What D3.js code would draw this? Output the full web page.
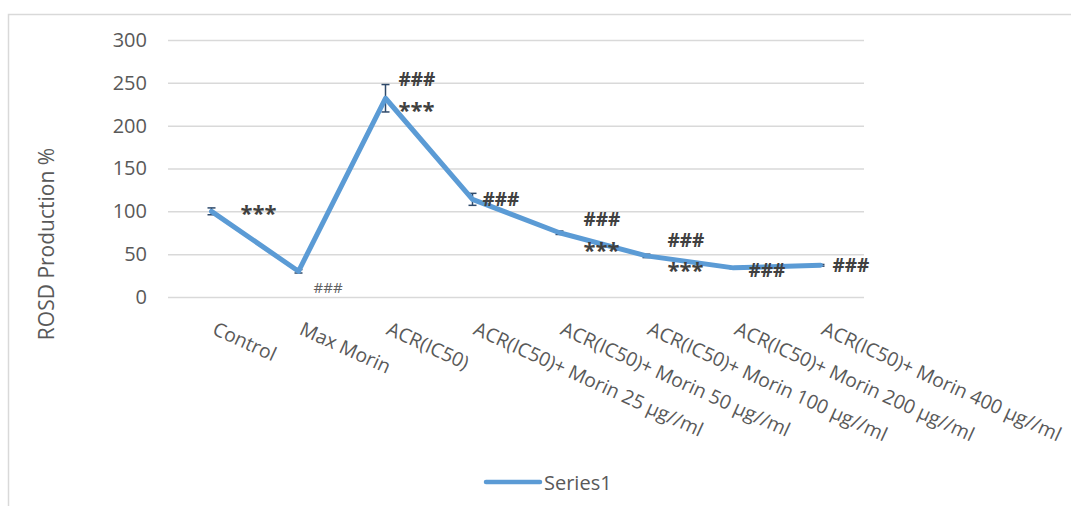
<!DOCTYPE html>
<html>
<head>
<meta charset="utf-8">
<script src="https://cdn.jsdelivr.net/npm/d3@7"></script>
<style>
  html, body { margin: 0; padding: 0; background: #fff; }
  svg { display: block; font-family: "Open Sans", sans-serif; }
</style>
</head>
<body>
<svg id="chart" width="1071" height="506"></svg>
<script>
// ---- data ----
const categories = [
  "Control",
  "Max Morin",
  "ACR(IC50)",
  "ACR(IC50)+ Morin 25 µg//ml",
  "ACR(IC50)+ Morin 50 µg//ml",
  "ACR(IC50)+ Morin 100 µg//ml",
  "ACR(IC50)+ Morin 200 µg//ml",
  "ACR(IC50)+ Morin 400 µg//ml"
];
const values = [100, 30, 232, 114, 75, 48, 34, 37];
const errors = [4, 2, 16, 7, 2, 2, 1, 1];
const hashLabels = ["", "###", "###", "###", "###", "###", "###", "###"];
const starLabels = ["***", "", "***", "", "***", "***", "", ""];
const yTicks = [0, 50, 100, 150, 200, 250, 300];
const seriesName = "Series1";
const yTitle = "ROSD Production %";

// ---- layout ----
const svg = d3.select("#chart");
const plot = { left: 168, right: 864, top: 40, bottom: 297 };

// outer chart border
svg.append("rect")
  .attr("x", 8.5).attr("y", 14.5)
  .attr("width", 1200).attr("height", 600)
  .attr("fill", "none").attr("stroke", "#d9d9d9").attr("stroke-width", 1.5);

const x = d3.scaleBand().domain(categories).range([plot.left, plot.right]);
const cx = d => x(d) + x.bandwidth() / 2;
const y = d3.scaleLinear().domain([0, 300]).range([plot.bottom, plot.top]);

// gridlines + y labels via axis
const yAxis = d3.axisLeft(y).tickValues(yTicks).tickSize(-(plot.right - plot.left)).tickPadding(21);
const gy = svg.append("g").attr("transform", `translate(${plot.left},0)`).call(yAxis);
gy.select(".domain").remove();
gy.selectAll(".tick line").attr("stroke", "#d9d9d9").attr("stroke-width", 1.5);
gy.selectAll(".tick text")
  .attr("fill", "#595959").attr("font-size", 20).attr("font-family", "Open Sans, sans-serif");

// x labels via axis (no line)
const xAxis = d3.axisBottom(x).tickSize(0).tickPadding(0);
const gx = svg.append("g").attr("transform", `translate(0,${plot.bottom})`).call(xAxis);
gx.select(".domain").remove();
gx.selectAll(".tick text")
  .attr("fill", "#595959").attr("font-size", 19.4).attr("font-family", "Open Sans, sans-serif")
  .attr("text-anchor", "start")
  .attr("x", 0).attr("y", 0).attr("dy", 0)
  .attr("transform", "translate(6,23) rotate(24.5) translate(0,15)");

// y title
svg.append("text")
  .attr("transform", `translate(54,244) rotate(-90)`)
  .attr("text-anchor", "middle")
  .attr("fill", "#595959").attr("font-size", 21)
  .text(yTitle);

const data = categories.map((c, i) => ({ c, v: values[i], e: errors[i], h: hashLabels[i], s: starLabels[i] }));

// error bars
const eb = svg.append("g").attr("stroke", "#2f4a6b").attr("stroke-width", 1.5);
data.forEach(d => {
  const px = cx(d.c);
  eb.append("line").attr("x1", px).attr("x2", px).attr("y1", y(d.v + d.e)).attr("y2", y(d.v - d.e));
  eb.append("line").attr("x1", px - 4).attr("x2", px + 4).attr("y1", y(d.v + d.e)).attr("y2", y(d.v + d.e));
  eb.append("line").attr("x1", px - 4).attr("x2", px + 4).attr("y1", y(d.v - d.e)).attr("y2", y(d.v - d.e));
});

// line
const line = d3.line().x(d => cx(d.c)).y(d => y(d.v)).curve(d3.curveLinear);
svg.append("path").datum(data)
  .attr("d", line)
  .attr("fill", "none").attr("stroke", "#5b9bd5")
  .attr("stroke-width", 5).attr("stroke-linejoin", "round").attr("stroke-linecap", "round");

// annotation offsets (layout only)
const hashOff = [null, [15, 16, 15], [13, -19, 19], [10, 0, 19], [24, -14, 19], [21, -16, 19], [15, 2, 19], [12, 0, 19]];
const starOff = [[29, -2], null, [13, 8], null, [24, 13], [21, 10], null, null];

const ann = svg.append("g").attr("fill", "#404040");
data.forEach((d, i) => {
  const px = cx(d.c), py = y(d.v);
  if (d.h) {
    const o = hashOff[i];
    ann.append("text")
      .attr("x", px + o[0]).attr("y", py + o[1])
      .attr("dominant-baseline", "central")
      .attr("font-size", o[2]).attr("font-weight", i === 1 ? "normal" : "bold")
      .attr("fill", i === 1 ? "#606060" : "#404040")
      .text(d.h);
  }
  if (d.s) {
    const o = starOff[i];
    ann.append("text")
      .attr("x", px + o[0]).attr("y", py + o[1] + 3)
      .attr("dominant-baseline", "central")
      .attr("font-size", 22).attr("font-weight", "bold")
      .text(d.s);
  }
});

// legend
const lg = svg.append("g");
lg.append("line").attr("x1", 486).attr("x2", 540).attr("y1", 482).attr("y2", 482)
  .attr("stroke", "#5b9bd5").attr("stroke-width", 4.5).attr("stroke-linecap", "round");
lg.append("text").attr("x", 544).attr("y", 482).attr("dominant-baseline", "central")
  .attr("fill", "#595959").attr("font-size", 20).text(seriesName);
</script>
</body>
</html>
